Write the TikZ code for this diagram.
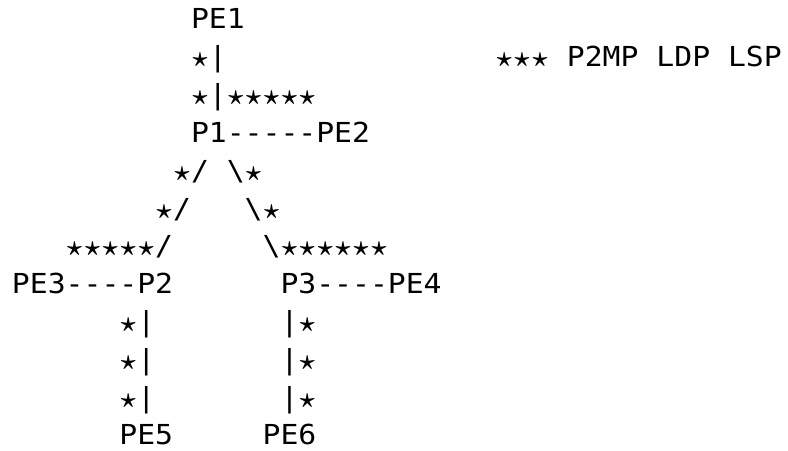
\documentclass[tikz,border=0pt]{standalone}
\usepackage{amsmath}
\usepackage{fontspec}
\newfontfamily\asciifont[FakeStretch=1.08,Ligatures=TeXOff]{DejaVu Sans Mono}
\usepackage{tikz}
\newcommand{\lspstar}{\makebox[\fontcharwd\font`P]{$\boldsymbol{\star}$}}
\tikzstyle{asc_t} = [anchor=base west, inner sep=0pt, outer sep=0pt, font=\asciifont\fontsize{20.65pt}{24pt}\selectfont]

\begin{document}
\begin{tikzpicture}[x=13.425pt, y=-28.35pt]
\useasboundingbox (-0.670,-0.767) rectangle (43.35,11.138);
% PE1 down to P1, with the legend
\node [asc_t] (pe1) at (10,0) {PE1};
\node [asc_t] (l1) at (10,1) {\lspstar|};
\node [asc_t] (legend) at (27,1) {\lspstar\lspstar\lspstar{} P2MP LDP LSP};
\node [asc_t] (l2) at (10,2) {\lspstar|\lspstar\lspstar\lspstar\lspstar\lspstar};
\node [asc_t] (p1) at (10,3) {P1-----PE2};
% the two branches
\node [asc_t] (l4a) at (9,4) {\lspstar/};
\node [asc_t] (l4b) at (12,4) {\textbackslash\lspstar};
\node [asc_t] (l5a) at (8,5) {\lspstar/};
\node [asc_t] (l5b) at (13,5) {\textbackslash\lspstar};
\node [asc_t] (l6a) at (3,6) {\lspstar\lspstar\lspstar\lspstar\lspstar/};
\node [asc_t] (l6b) at (14,6) {\textbackslash\lspstar\lspstar\lspstar\lspstar\lspstar\lspstar};
\node [asc_t] (p2) at (0,7) {PE3----P2};
\node [asc_t] (p3) at (15,7) {P3----PE4};
% down to PE5 and PE6
\foreach \r in {8,9,10}{
  \node [asc_t] (la\r) at (6,\r) {\lspstar|};
  \node [asc_t] (lb\r) at (15,\r) {|\lspstar};
}
\node [asc_t] (pe5) at (6,11) {PE5};
\node [asc_t] (pe6) at (14,11) {PE6};
\end{tikzpicture}
\end{document}
